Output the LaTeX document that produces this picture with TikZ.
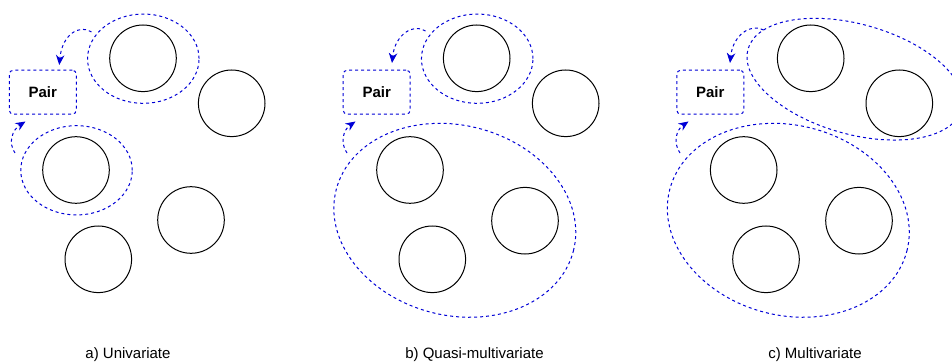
\documentclass[tikz,border=0pt]{standalone}
\usepackage{fontspec}
\setmainfont{Liberation Sans}
\usetikzlibrary{shapes.geometric,arrows.meta}
\definecolor{grpblue}{RGB}{0,0,214}
\tikzset{
  item/.style={circle,draw=black,line width=1pt,minimum size=66.6pt,inner sep=0pt},
  grp/.style={ellipse,draw=grpblue,line width=1pt,dash pattern=on 3pt off 3pt,inner sep=0pt},
  pairbox/.style={draw=grpblue,line width=1pt,dash pattern=on 3pt off 3pt,rounded corners=4pt,
    minimum width=67pt,minimum height=44pt,inner sep=0pt,font=\fontsize{15}{18}\selectfont\bfseries},
  link/.style={draw=grpblue,line width=1pt,dash pattern=on 3pt off 3pt,
    -{Stealth[length=10pt,width=8.5pt]}},
  caption/.style={anchor=base,font=\fontsize{15}{18}\selectfont}
}
\begin{document}
\begin{tikzpicture}[x=1pt,y=-1pt]
\useasboundingbox (0,0) rectangle (952,363);
% ---------- panel a ----------
\node[item] (a1) at (143,58.3) {};
\node[item] (a2) at (231.7,103.3) {};
\node[item] (a3) at (76,170) {};
\node[item] (a4) at (191,220) {};
\node[item] (a5) at (98.3,259.3) {};
\node[grp,minimum width=111.5pt,minimum height=89.3pt] (ea1) at (143.3,58.7) {};
\node[grp,minimum width=111.5pt,minimum height=89.3pt] (ea2) at (76.5,170.3) {};
\node[pairbox] (pa) at (42.8,92.2) {Pair};
\coordinate (as1) at (91.5,32);
\coordinate (at1) at (59.3,65);
\coordinate (as2) at (15,153);
\coordinate (at2) at (25.5,121.5);
\draw[link] (as1) .. controls (80,24) and (62,34) .. (at1);
\draw[link] (as2) .. controls (8,143) and (12,130) .. (at2);
\node[caption] (la) at (128,358) {a) Univariate};
% ---------- panel b ----------
\node[item] (b1) at (476.7,58.3) {};
\node[item] (b2) at (565.7,103.3) {};
\node[item] (b3) at (410,170) {};
\node[item] (b4) at (525,220.7) {};
\node[item] (b5) at (432.3,259.3) {};
\node[grp,minimum width=111.5pt,minimum height=89.3pt] (eb1) at (477.2,58.7) {};
\node[grp,minimum width=245pt,minimum height=190pt,rotate=-14.5] (eb2) at (454.8,220.3) {};
\node[pairbox] (pb) at (376.7,92.2) {Pair};
\coordinate (bs1) at (425.5,31);
\coordinate (bt1) at (392,63);
\coordinate (bs2) at (347,153);
\coordinate (bt2) at (355.5,121.5);
\draw[link] (bs1) .. controls (414,23) and (395,34) .. (bt1);
\draw[link] (bs2) .. controls (340,143) and (343,130) .. (bt2);
\node[caption] (lb) at (474.5,358) {b) Quasi-multivariate};
% ---------- panel c ----------
\node[item] (c1) at (810.7,58.3) {};
\node[item] (c2) at (899.3,103.3) {};
\node[item] (c3) at (743.7,170) {};
\node[item] (c4) at (859,220.7) {};
\node[item] (c5) at (766,259.3) {};
\node[grp,minimum width=222pt,minimum height=110pt,rotate=-15.7] (ec1) at (854.8,79.2) {};
\node[grp,minimum width=245pt,minimum height=190pt,rotate=-14.5] (ec2) at (788.3,220.3) {};
\node[pairbox] (pc) at (710.3,92.2) {Pair};
\coordinate (cs1) at (763.5,30);
\coordinate (ct1) at (730,63);
\coordinate (cs2) at (680,153);
\coordinate (ct2) at (688.5,121.5);
\draw[link] (cs1) .. controls (752,23) and (733,34) .. (ct1);
\draw[link] (cs2) .. controls (673,143) and (676,130) .. (ct2);
\node[caption] (lc) at (815,358) {c) Multivariate};
\end{tikzpicture}
\end{document}
